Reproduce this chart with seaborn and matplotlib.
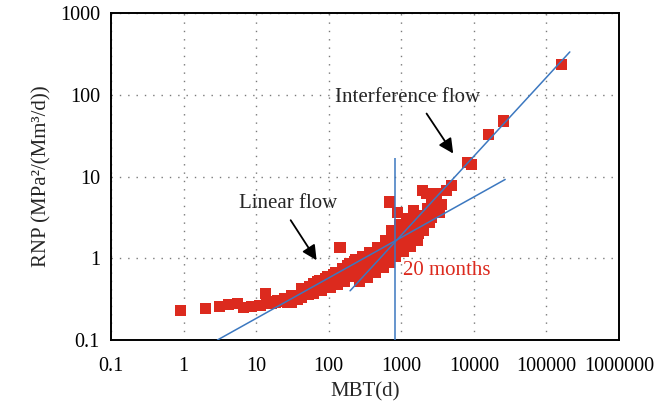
import matplotlib
matplotlib.use("Agg")
import matplotlib.pyplot as plt
import seaborn as sns
import pandas as pd
import numpy as np

# ---- data ----
mbt = [0.91, 2.02, 3.17, 4.13, 5.49, 6.79, 8.67, 11.3, 13.6, 14.0, 18.2, 22.4, 30.8, 30.8,
       42.4, 42.4, 61.2, 61.2, 75.7, 80.6, 97.5, 104, 126, 134, 143, 157, 167, 196, 209,
       237, 253, 269, 296, 325, 347, 369, 406, 447, 476, 524, 576, 614, 654, 697, 697,
       743, 791, 843, 898, 957, 1019, 1086, 1195, 1273, 1356, 1492, 1590, 1694, 1862,
       1984, 2048, 2253, 2324, 2476, 2724, 2903, 3093, 3093, 3403, 4207, 4932, 8190,
       9295, 16100, 25300, 161000,
       16, 20, 25, 27, 35, 37, 48, 52, 55, 68, 70, 88, 90, 115, 115, 150, 175, 180,
       220, 225, 280, 285, 310, 390, 420, 500, 550, 620, 680, 760, 760, 880, 1000,
       1150, 1150, 1300, 1400, 1700, 1800, 2000, 2200, 2600, 2600, 3600]
rnp = [0.227, 0.245, 0.254, 0.271, 0.279, 0.249, 0.259, 0.266, 0.370, 0.284, 0.292, 0.306,
       0.353, 0.290, 0.426, 0.333, 0.491, 0.373, 0.538, 0.406, 0.602, 0.442, 0.674, 0.481,
       1.37, 0.755, 0.523, 0.869, 0.602, 0.972, 0.693, 0.523, 1.058, 0.798, 0.586, 1.18,
       0.893, 0.674, 1.36, 1.03, 0.776, 1.66, 1.18, 0.893, 4.88, 2.20, 1.44, 1.06, 3.65,
       2.61, 1.66, 1.22, 3.09, 2.02, 1.40, 3.87, 2.46, 1.66, 3.36, 6.79, 2.20, 6.24, 4.09,
       2.76, 5.90, 4.45, 6.24, 5.12, 3.65, 6.79, 7.81, 14.8, 14.0, 32.6, 47.8, 236,
       0.28, 0.30, 0.32, 0.29, 0.34, 0.31, 0.40, 0.36, 0.45, 0.42, 0.52, 0.47, 0.57,
       0.52, 0.64, 0.60, 0.70, 0.82, 0.68, 0.92, 0.62, 0.85, 0.70, 0.78, 1.00, 0.85,
       1.20, 0.95, 1.40, 1.20, 1.80, 1.30, 2.00, 1.50, 2.50, 1.70, 2.80, 2.00, 2.90,
       2.50, 3.00, 3.20, 5.00, 4.50]

# fitted straight lines (end points)
interference_x = [197, 210000]
interference_y = [0.40, 334]
linear_x = [2.93, 27000]
linear_y = [0.10, 9.2]
# 20-month marker line
month20_x = 815
month20_y = [0.1, 17]

x_ticks = [0.1, 1, 10, 100, 1000, 10000, 100000, 1000000]
x_ticklabels = ["0.1", "1", "10", "100", "1000", "10000", "100000", "1000000"]
y_ticks = [0.1, 1, 10, 100, 1000]
y_ticklabels = ["0.1", "1", "10", "100", "1000"]

# ---- style ----
sns.set_style("white")
plt.rcParams["font.family"] = ["Liberation Serif", "DejaVu Serif"]

RED = "#DC2A1E"
BLUE = "#3C78C0"

fig = plt.figure(figsize=(6.56, 4.09), dpi=100)
ax = fig.add_axes([111 / 656, 1 - 340 / 409, (619 - 111) / 656, (340 - 13) / 409])
ax.set_xscale("log")
ax.set_yscale("log")

df = pd.DataFrame({"MBT": mbt, "RNP": rnp})
sns.scatterplot(data=df, x="MBT", y="RNP", marker="s", s=64, color=RED,
                edgecolor="none", linewidth=0, ax=ax, zorder=3)

sns.lineplot(x=interference_x, y=interference_y, color=BLUE, lw=1.1, ax=ax, zorder=4)
sns.lineplot(x=linear_x, y=linear_y, color=BLUE, lw=1.1, ax=ax, zorder=4)
ax.vlines(month20_x, month20_y[0], month20_y[1], color=BLUE, lw=1.1, zorder=4)

ax.set_xlim(0.1, 1000000)
ax.set_ylim(0.1, 1000)
ax.set_xticks(x_ticks)
ax.set_xticklabels(x_ticklabels)
ax.set_yticks(y_ticks)
ax.set_yticklabels(y_ticklabels)
ax.minorticks_off()

ax.grid(True, which="major", color="#7a7a7a", linestyle=(0, (1, 5)), lw=1.0)
ax.tick_params(axis="both", which="major", direction="inout", length=8, width=1.2,
               labelsize=14.5, colors="black", pad=4)
ax.tick_params(axis="x", pad=8)
for sp in ax.spines.values():
    sp.set_visible(True)
    sp.set_color("black")
    sp.set_linewidth(1.4)

ax.set_xlabel("MBT(d)", fontsize=15, labelpad=5)
ax.set_ylabel("RNP (MPa²/(Mm³/d))", fontsize=15, labelpad=6)

arrow_kw = dict(arrowstyle="-|>", color="black", lw=1.3, mutation_scale=22,
                shrinkA=0, shrinkB=0)
ax.annotate("", xy=(68.1, 0.945), xytext=(29.9, 2.92), arrowprops=arrow_kw, zorder=5)
ax.text(27.4, 4.71, "Linear flow", fontsize=15, ha="center", va="center")
ax.annotate("", xy=(5190, 19.1), xytext=(2230, 58.9), arrowprops=arrow_kw, zorder=5)
ax.text(1233, 93.2, "Interference flow", fontsize=15, ha="center", va="center")
ax.text(1052, 0.713, "20 months", fontsize=15, ha="left", va="center", color=RED)

fig.savefig("out.png", dpi=100)
